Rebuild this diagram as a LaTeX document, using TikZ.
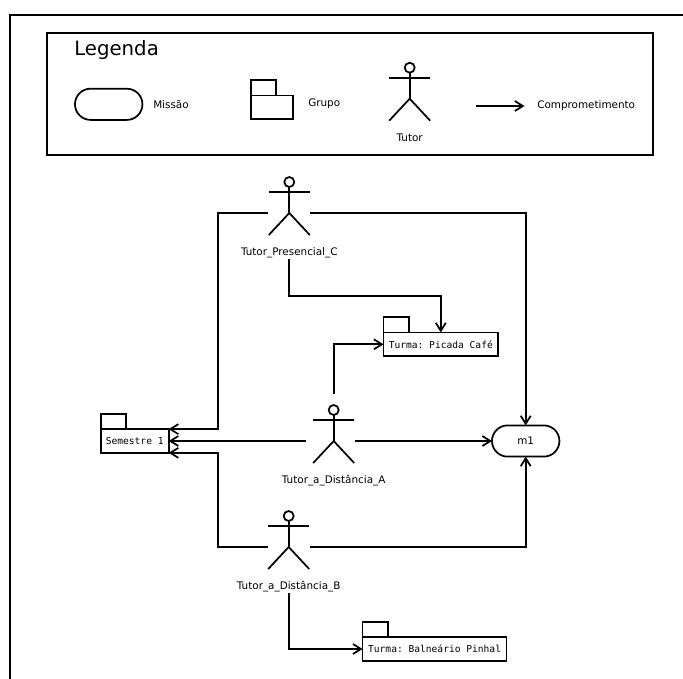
\documentclass[tikz,border=0pt]{standalone}
\usepackage{fontspec}
\setmainfont{DejaVu Sans}
\setmonofont{DejaVu Sans Mono}
\usetikzlibrary{arrows.meta,shapes.misc}
\tikzset{
  linha/.style={line width=1.3pt},
  seta/.style={linha,-{Straight Barb[length=6pt,width=7.5pt]}},
  rotulo/.style={inner sep=0pt,font=\fontsize{7.8}{9}\selectfont},
  ponto/.style={inner sep=0pt,outer sep=0pt,minimum width=31.5pt,minimum height=1pt},
  grupo/.style={draw,linha,inner sep=0pt,outer sep=0pt,minimum height=17.8pt,font=\ttfamily\fontsize{7.2}{9}\selectfont},
  aba/.style={draw,linha,inner sep=0pt,outer sep=0pt,minimum width=19pt,minimum height=11.6pt,anchor=south west},
  missao/.style={draw,linha,rounded rectangle,inner sep=0pt,outer sep=0pt,minimum width=50.6pt,minimum height=23.4pt,font=\fontsize{7.8}{9}\selectfont}
}
% boneco do tutor: nome, quadril, texto
\newcommand{\ator}[3]{
  \begin{scope}[shift={(#2)}]
    \node[ponto] (#1) at (0,0) {};
    \node[rotulo,minimum height=10pt] (#1rot) at (0,39.5) {#3};
    \draw[linha] (0,-31) circle (5);
    \draw[linha] (-20.5,-20.7) -- (20.5,-20.7);
    \draw[linha] (0,-26) -- (0,0);
    \draw[linha] (-20.5,22) -- (0,0) -- (20.5,22);
  \end{scope}
}
\begin{document}
\begin{tikzpicture}[x=0.75pt,y=-0.75pt]
\useasboundingbox (0,0) rectangle (683,679);
\draw[linha] (683,14.7) -- (9.7,14.7) -- (9.7,679);

% legenda
\draw[linha] (47,33) rectangle (652.7,155);
\node[anchor=west,inner sep=0pt,font=\fontsize{14.8}{16}\selectfont] (legenda) at (74,50) {Legenda};
\node[missao] (legMissao) at (108.7,104.3) {};
\node[rotulo,anchor=west] (txtMissao) at (153,105) {Missão};
\node[grupo,minimum width=31.5pt,anchor=north west] (legGrupo) at (251,95.5) {};
\node[aba] (legAba) at (legGrupo.north west) {};
\node[rotulo,anchor=west] (txtGrupo) at (308,104) {Grupo};
\ator{legTutor}{409.7,98.7}{Tutor}
\coordinate (legIni) at (475.7,106);
\coordinate (legFim) at (524.5,106);
\draw[seta] (legIni) -- (legFim);
\node[rotulo,anchor=west] (txtComp) at (537,106) {Comprometimento};

% tutores
\ator{tutorC}{289.3,213}{Tutor\_Presencial\_C}
\ator{tutorA}{333.7,441}{Tutor\_a\_Distância\_A}
\ator{tutorB}{288.7,547}{Tutor\_a\_Distância\_B}

% grupos
\node[grupo,minimum width=51pt] (semestre) at (134.7,441) {Semestre 1};
\node[aba] (abaSemestre) at (semestre.north west) {};
\node[grupo,minimum width=85.9pt] (picada) at (440.8,344.3) {Turma: Picada Café};
\node[aba] (abaPicada) at (picada.north west) {};
\node[grupo,minimum width=108pt] (balneario) at (434.6,649) {Turma: Balneário Pinhal};
\node[aba] (abaBalneario) at (balneario.north west) {};

% missao
\node[missao] (m1) at (525.7,441) {m1};

% comprometimentos
\coordinate (dobraE) at (218,0);
\coordinate (dobraC) at (289.3,295.7);
\coordinate (saidaA) at (333.7,394);
\coordinate (saidaAesq) at (306,441);
\draw[seta] (tutorC.west) -- (tutorC.west -| dobraE) -- (semestre.north east -| dobraE) -- (semestre.north east);
\draw[seta] (tutorC.east) -| (m1.north);
\draw[seta] (tutorCrot.south) -- (dobraC) -| (picada.north);
\draw[seta] (saidaA) |- (picada.west);
\draw[seta] (saidaAesq) -- (semestre.east);
\draw[seta] (tutorA.east) -- (m1.west);
\draw[seta] (tutorB.west) -- (tutorB.west -| dobraE) -- (semestre.south east -| dobraE) -- (semestre.south east);
\draw[seta] (tutorB.east) -| (m1.south);
\draw[seta] (tutorBrot.south) |- (balneario.west);
\end{tikzpicture}
\end{document}
